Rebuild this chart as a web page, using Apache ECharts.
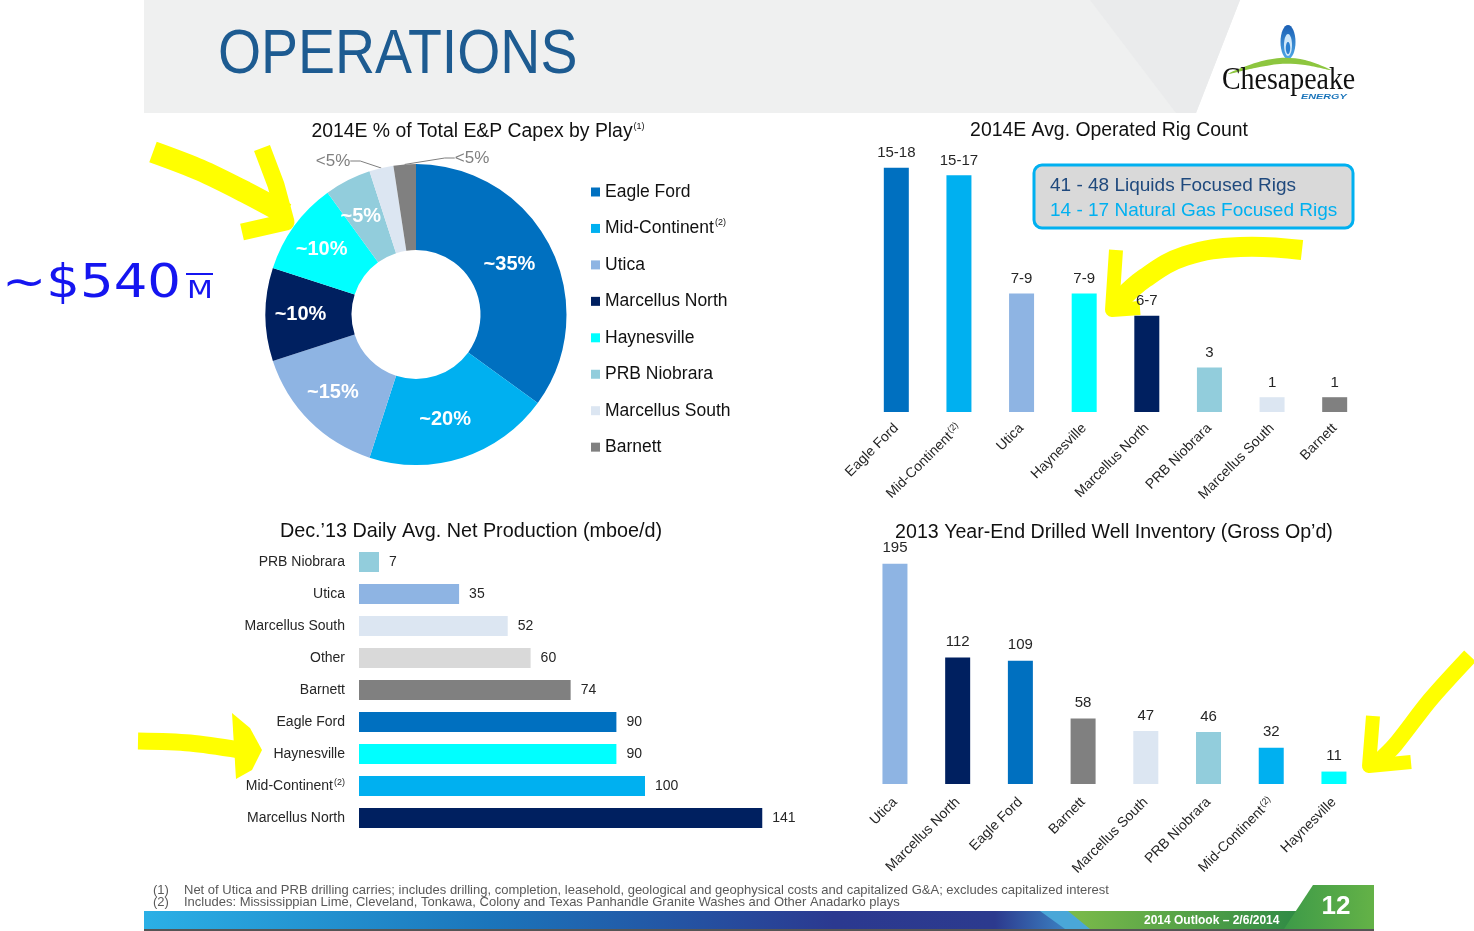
<!DOCTYPE html>
<html><head><meta charset="utf-8">
<script src="https://cdn.jsdelivr.net/npm/echarts@6/dist/echarts.min.js"></script>
<style>html,body{margin:0;padding:0;background:#fff}#c{width:1474px;height:931px}</style>
</head><body><div id="c"></div>
<script>
// ---------- DATA ----------
const capexPlays = ['Eagle Ford','Mid-Continent','Utica','Marcellus North','Haynesville','PRB Niobrara','Marcellus South','Barnett'];
const capexShare = [35, 20, 15, 10, 10, 5, 2.6, 2.4];
const capexLabels = ['~35%','~20%','~15%','~10%','~10%','~5%','<5%','<5%'];

const rigPlays = ['Eagle Ford','Mid-Continent','Utica','Haynesville','Marcellus North','PRB Niobrara','Marcellus South','Barnett'];
const rigMid = [16.5, 16, 8, 8, 6.5, 3, 1, 1];
const rigLabels = ['15-18','15-17','7-9','7-9','6-7','3','1','1'];

const prodPlays = ['PRB Niobrara','Utica','Marcellus South','Other','Barnett','Eagle Ford','Haynesville','Mid-Continent','Marcellus North'];
const prodValues = [7, 35, 52, 60, 74, 90, 90, 100, 141];

const wellPlays = ['Utica','Marcellus North','Eagle Ford','Barnett','Marcellus South','PRB Niobrara','Mid-Continent','Haynesville'];
const wellValues = [195, 112, 109, 58, 47, 46, 32, 11];

// ---------- STYLE ----------
const COLORS = {'Eagle Ford':'#0070c0','Mid-Continent':'#00b0f0','Utica':'#8eb4e3','Marcellus North':'#002060',
  'Haynesville':'#00ffff','PRB Niobrara':'#92cddc','Marcellus South':'#dce6f2','Barnett':'#808080','Other':'#d9d9d9'};
const F = 'Liberation Sans, Arial, sans-serif';
const supName = n => n === 'Mid-Continent' ? n + '{sup|(2)}' : n;
const supRich = {sup:{fontSize:9, verticalAlign:'top', color:'#262626', fontFamily:F, padding:[0,0,6,1]}};

const chart = echarts.init(document.getElementById('c'));

const yellow = (pts, w, smooth) => ({type:'polyline', z:1, shape:{points:pts, smooth:smooth||0},
  style:{stroke:'#ffff00', lineWidth:w, fill:null, lineJoin:'round', lineCap:'butt'}});

const graphic = [
  // header
  {type:'polygon', z:0, shape:{points:[[144,0],[1240,0],[1196,113],[144,113]]}, style:{fill:'#eff0f0'}},
  {type:'polygon', z:0, shape:{points:[[1090,0],[1240,0],[1196,113],[1176,113]]}, style:{fill:'#eaebec'}},
  {type:'text', x:218, y:56, scaleX:0.88, style:{text:'OPERATIONS', x:0, y:0, fill:'#1d5b91',
    font:'63px Liberation Sans, Arial, sans-serif', verticalAlign:'middle'}},
  // logo
  {type:'ellipse', shape:{cx:1288, cy:42, rx:7.5, ry:17}, style:{fill:new echarts.graphic.LinearGradient(0,0,0,1,[{offset:0,color:'#1a5fb4'},{offset:1,color:'#4fa8e6'}])}},
  {type:'ellipse', shape:{cx:1288, cy:45, rx:4, ry:11}, style:{fill:'#cfe8fa'}},
  {type:'ellipse', shape:{cx:1288, cy:48, rx:2.2, ry:6}, style:{fill:'#2a7fd0'}},
  {type:'polygon', shape:{points:[[1228,74],[1255,63],[1280,58],[1305,60],[1331,70],[1305,65],[1280,64],[1255,68]], smooth:0.3}, style:{fill:'#8dc63f'}},
  {type:'text', x:1222, y:81, scaleX:0.9, style:{text:'Chesapeake', x:0, y:0, fill:'#111', font:'31px Liberation Serif, Times New Roman, serif', verticalAlign:'middle'}},
  {type:'text', x:1301, y:97, scaleX:1.35, style:{text:'ENERGY', x:0, y:0, fill:'#1b75bb', font:'italic bold 8px Liberation Sans, Arial, sans-serif', verticalAlign:'middle'}},
  // chart titles
  {type:'text', style:{text:'2014E % of Total E&P Capex by Play{s|(1)}', x:478, y:132, align:'center', verticalAlign:'middle',
    font:'19.4px '+F, fill:'#111', rich:{s:{fontSize:9, verticalAlign:'top', padding:[0,0,8,1], fill:'#111'}}}},
  {type:'text', style:{text:'2014E Avg. Operated Rig Count', x:1109, y:131, align:'center', verticalAlign:'middle', font:'19.4px '+F, fill:'#111'}},
  {type:'text', style:{text:'Dec.\u201913 Daily Avg. Net Production (mboe/d)', x:471, y:532, align:'center', verticalAlign:'middle', font:'19.8px '+F, fill:'#111'}},
  {type:'text', style:{text:'2013 Year-End Drilled Well Inventory (Gross Op\u2019d)', x:1114, y:533, align:'center', verticalAlign:'middle', font:'19.6px '+F, fill:'#111'}},
  // callout box
  {type:'rect', shape:{x:1034, y:165, width:319, height:63, r:8}, style:{fill:'#d9d9d9', stroke:'#00b0f0', lineWidth:3}},
  {type:'text', style:{text:'41 - 48 Liquids Focused Rigs', x:1050, y:186, verticalAlign:'middle', font:'19px '+F, fill:'#1f497d'}},
  {type:'text', style:{text:'14 - 17 Natural Gas Focused Rigs', x:1050, y:211, verticalAlign:'middle', font:'19px '+F, fill:'#00b0f0'}},
  // footnotes
  {type:'text', style:{text:'(1)', x:153, y:890, verticalAlign:'middle', font:'13px '+F, fill:'#595959'}},
  {type:'text', style:{text:'(2)', x:153, y:902, verticalAlign:'middle', font:'13px '+F, fill:'#595959'}},
  {type:'text', x:184, y:890, scaleX:1.0, style:{text:'Net of Utica and PRB drilling carries; includes drilling, completion, leasehold, geological and geophysical costs and capitalized G&A; excludes capitalized interest', x:0, y:0, verticalAlign:'middle', font:'13px '+F, fill:'#595959'}},
  {type:'text', x:184, y:902, scaleX:1.0, style:{text:'Includes: Mississippian Lime, Cleveland, Tonkawa, Colony and Texas Panhandle Granite Washes and Other Anadarko plays', x:0, y:0, verticalAlign:'middle', font:'13px '+F, fill:'#595959'}},
  // footer bar
  {type:'rect', shape:{x:144, y:911, width:1150, height:18}, style:{fill:new echarts.graphic.LinearGradient(0,0,1,0,[
    {offset:0,color:'#2bb0e6'},{offset:0.3,color:'#1b75bb'},{offset:0.6,color:'#2b3990'},{offset:0.74,color:'#2c3a8e'},
    {offset:0.8,color:'#3b7fc0'},{offset:0.84,color:'#3aa0d0'},{offset:1,color:'#3aa0d0'}])}},
  {type:'polygon', shape:{points:[[1040,911],[1080,911],[1105,929],[1065,929]]}, style:{fill:'#4aa7d8'}},
  {type:'polygon', shape:{points:[[1068,911],[1300,911],[1290,929],[1090,929]]}, style:{fill:new echarts.graphic.LinearGradient(0,0,1,0,[{offset:0,color:'#7cbb4a'},{offset:1,color:'#2f8a45'}])}},
  {type:'polygon', shape:{points:[[1313,885],[1374,885],[1374,929],[1284,929]]}, style:{fill:new echarts.graphic.LinearGradient(0,0,1,0,[{offset:0,color:'#3d9a48'},{offset:1,color:'#64b247'}])}},
  {type:'rect', shape:{x:144, y:929, width:1230, height:2}, style:{fill:'#555'}},
  {type:'text', style:{text:'2014 Outlook \u2013 2/6/2014', x:1144, y:921, verticalAlign:'middle', font:'bold 12px '+F, fill:'#fff'}},
  {type:'text', style:{text:'12', x:1336, y:907, align:'center', verticalAlign:'middle', font:'bold 26px '+F, fill:'#fff'}},
  // hand annotations
  {type:'text', x:2, y:285, scaleX:1.15, style:{text:'~$540', x:0, y:0, verticalAlign:'middle', font:'46px DejaVu Sans, sans-serif', fill:'#1515f0'}},
  {type:'text', x:187, y:292, scaleX:1.25, style:{text:'M', x:0, y:0, verticalAlign:'middle', font:'24px DejaVu Sans, sans-serif', fill:'#1515f0'}},
  {type:'line', shape:{x1:186, y1:274, x2:213, y2:274}, style:{stroke:'#1515f0', lineWidth:2}},
  yellow([[153,152],[200,170],[245,192],[286,214]], 22, 0.3),
  yellow([[262,148],[276,185],[286,222],[242,232]], 17, 0),
  yellow([[1302,250],[1240,247],[1185,256],[1145,278],[1118,302]], 20, 0.4),
  yellow([[1116,250],[1112,310],[1140,308]], 14, 0),
  yellow([[138,741],[190,743],[240,750]], 17, 0.3),
  {type:'polygon', z:1, shape:{points:[[232,713],[250,728],[262,750],[252,770],[236,779]]}, style:{fill:'#ffff00'}},
  yellow([[1470,656],[1430,700],[1395,745],[1378,762]], 16, 0.3),
  yellow([[1373,716],[1369,766],[1411,762]], 14, 0),
];

const option = {
  animation:false,
  graphic: graphic,
  legend: {orient:'vertical', left:591, top:182, padding:0, itemWidth:9, itemHeight:9, itemGap:16.45, icon:'rect',
    selectedMode:false, data:capexPlays, formatter:supName,
    textStyle:{fontSize:17.5, color:'#111', fontFamily:F, lineHeight:20,
      rich:{sup:{fontSize:9, verticalAlign:'top', color:'#111', fontFamily:F, lineHeight:20, padding:[0,0,0,1]}}}},
  grid: [
    {left:865, width:501, top:116, height:296},
    {left:359, width:457.6, top:546, height:288},
    {left:863.6, width:501.7, top:558, height:226}
  ],
  xAxis: [
    {type:'category', gridIndex:0, data:rigPlays, axisLine:{show:false}, axisTick:{show:false},
      axisLabel:{rotate:45, interval:0, margin:14, fontSize:14, color:'#262626', fontFamily:F, formatter:supName, rich:supRich}},
    {type:'value', gridIndex:1, min:0, max:160, show:false},
    {type:'category', gridIndex:2, data:wellPlays, axisLine:{show:false}, axisTick:{show:false},
      axisLabel:{rotate:45, interval:0, margin:16, fontSize:14, color:'#262626', fontFamily:F, formatter:supName, rich:supRich}}
  ],
  yAxis: [
    {type:'value', gridIndex:0, min:0, max:20, show:false},
    {type:'category', gridIndex:1, inverse:true, data:prodPlays, axisLine:{show:false}, axisTick:{show:false},
      axisLabel:{margin:14, fontSize:14, color:'#262626', fontFamily:F, formatter:supName, rich:supRich}},
    {type:'value', gridIndex:2, min:0, max:200, show:false}
  ],
  series: [
    {type:'pie', radius:[64.5,150.5], center:[416,314.5], startAngle:90, clockwise:true,
      emphasis:{disabled:true},
      data: capexPlays.map((n,i)=>{
        const d = {name:n, value:capexShare[i], itemStyle:{color:COLORS[n]}};
        if (capexLabels[i].charAt(0) === '<') {
          d.label = {position:'outside', color:'#7f7f7f', fontWeight:'normal', fontSize:17};
          d.labelLine = {show:true, length:8, length2:10, lineStyle:{color:'#7f7f7f', width:1}};
        }
        return d;
      }),
      label:{show:true, position:'inside', formatter:p=>capexLabels[p.dataIndex], color:'#fff', fontSize:20, fontWeight:'bold', fontFamily:F},
      labelLine:{show:false},
      labelLayout: p => {
        if (p.dataIndex === 6) return {x:333, y:161, align:'center', verticalAlign:'middle'};
        if (p.dataIndex === 7) return {x:472, y:158, align:'center', verticalAlign:'middle'};
        return {dx:-5};
      }
    },
    {type:'bar', xAxisIndex:0, yAxisIndex:0, barWidth:25,
      data: rigMid.map((v,i)=>({value:v, itemStyle:{color:COLORS[rigPlays[i]]}})),
      label:{show:true, position:'top', distance:7, formatter:p=>rigLabels[p.dataIndex], fontSize:15, color:'#262626', fontFamily:F}},
    {type:'bar', xAxisIndex:1, yAxisIndex:1, barWidth:20,
      data: prodValues.map((v,i)=>({value:v, itemStyle:{color:COLORS[prodPlays[i]]}})),
      label:{show:true, position:'right', distance:10, fontSize:14, color:'#262626', fontFamily:F}},
    {type:'bar', xAxisIndex:2, yAxisIndex:2, barWidth:25,
      data: wellValues.map((v,i)=>({value:v, itemStyle:{color:COLORS[wellPlays[i]]}})),
      label:{show:true, position:'top', distance:8, fontSize:15, color:'#262626', fontFamily:F}}
  ]
};
chart.setOption(option);
</script></body></html>
